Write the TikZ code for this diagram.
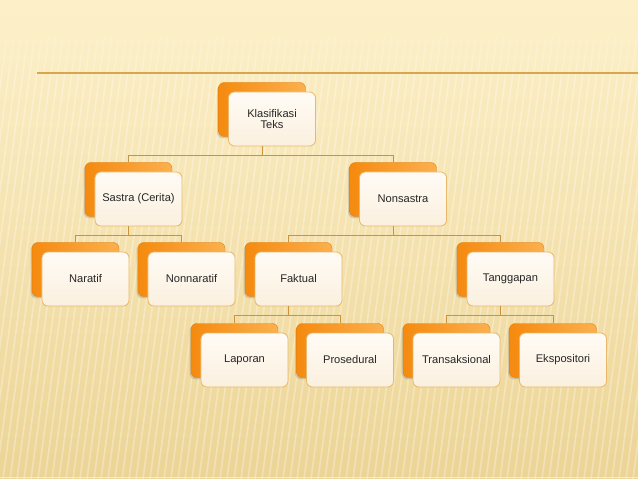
\documentclass[tikz,border=0pt]{standalone}
\usepackage{fontspec}
\setmainfont{Liberation Sans}
\usetikzlibrary{shadows,fadings}
\definecolor{cream}{HTML}{FDF0C8}
\definecolor{creammid}{HTML}{F8E6B4}
\definecolor{sand}{HTML}{ECD495}
\definecolor{rulegold}{HTML}{D8A64E}
\definecolor{linkgold}{HTML}{C99340}
\definecolor{orangedark}{HTML}{F58A0F}
\definecolor{orangelight}{HTML}{FBB04E}
\definecolor{cardedge}{HTML}{E9B86A}
\definecolor{cardtop}{HTML}{FFFBF5}
\definecolor{cardbottom}{HTML}{FBF0DF}
\definecolor{textgray}{HTML}{262626}

\newcommand{\cardbox}[4]{%
\node[back] (#1b) at (#2-10,#3+9.5) {};
\node[front] (#1) at (#2,#3) {#4};}

\begin{document}
\begin{tikzpicture}[x=0.03cm, y=0.03cm]
\tikzstyle{every node}+=[inner sep=0pt, font=\fontsize{9.5}{10.2}\selectfont, text=textgray]
\tikzstyle{back}=[rectangle, rounded corners=5pt, minimum width=2.61cm, minimum height=1.62cm, left color=orangedark, right color=orangelight, draw=orangedark!90!black, line width=0.3pt, drop shadow={shadow xshift=-1.2pt, shadow yshift=-1.5pt, opacity=0.3}]
\tikzstyle{front}=[rectangle, rounded corners=5pt, minimum width=2.61cm, minimum height=1.62cm, top color=cardtop, bottom color=cardbottom, draw=cardedge, line width=0.7pt, align=center]
\tikzstyle{link}=[draw=linkgold, line width=0.6pt]

\useasboundingbox (0,0) rectangle (638,-479);
\shade[top color=cream, middle color=creammid, bottom color=sand] (0,0) rectangle (638,-479);
\foreach \i in {0,7,...,700}
  \draw[white, opacity=0.3, line width=1.4pt] (\i,-35) -- (\i-60,-479);
\fill[cream, path fading=south] (0,0) rectangle (638,-90);
\draw[rulegold, line width=0.9pt] (37,-73) -- (638,-73);
\draw[white, opacity=0.5, line width=0.6pt] (0,-477.5) -- (638,-477.5);

\cardbox{klas}{272}{-119}{Klasifikasi\\Teks}
\cardbox{sastra}{138.5}{-199}{Sastra (Cerita)}
\cardbox{nonsastra}{403}{-199}{Nonsastra}
\cardbox{naratif}{85.5}{-279}{Naratif}
\cardbox{nonnaratif}{191.5}{-279}{Nonnaratif}
\cardbox{faktual}{298.5}{-279}{Faktual}
\cardbox{tanggapan}{510.5}{-279}{Tanggapan}
\cardbox{laporan}{244.5}{-360}{Laporan}
\cardbox{prosedural}{350}{-360}{Prosedural}
\cardbox{transaksional}{456.5}{-360}{Transaksional}
\cardbox{ekspositori}{563}{-360}{Ekspositori}

\draw[link] (klas.south -| klasb.center) -- ++(0,-9) -| (sastrab.north);
\draw[link] (klas.south -| klasb.center) -- ++(0,-9) -| (nonsastrab.north);
\draw[link] (sastra.south -| sastrab.center) -- ++(0,-9) -| (naratifb.north);
\draw[link] (sastra.south -| sastrab.center) -- ++(0,-9) -| (nonnaratifb.north);
\draw[link] (nonsastra.south -| nonsastrab.center) -- ++(0,-9) -| (faktualb.north);
\draw[link] (nonsastra.south -| nonsastrab.center) -- ++(0,-9) -| (tanggapanb.north);
\draw[link] (faktual.south -| faktualb.center) -- ++(0,-9) -| (laporanb.north);
\draw[link] (faktual.south -| faktualb.center) -- ++(0,-9) -| (proseduralb.north);
\draw[link] (tanggapan.south -| tanggapanb.center) -- ++(0,-9) -| (transaksionalb.north);
\draw[link] (tanggapan.south -| tanggapanb.center) -- ++(0,-9) -| (ekspositorib.north);
\end{tikzpicture}
\end{document}
